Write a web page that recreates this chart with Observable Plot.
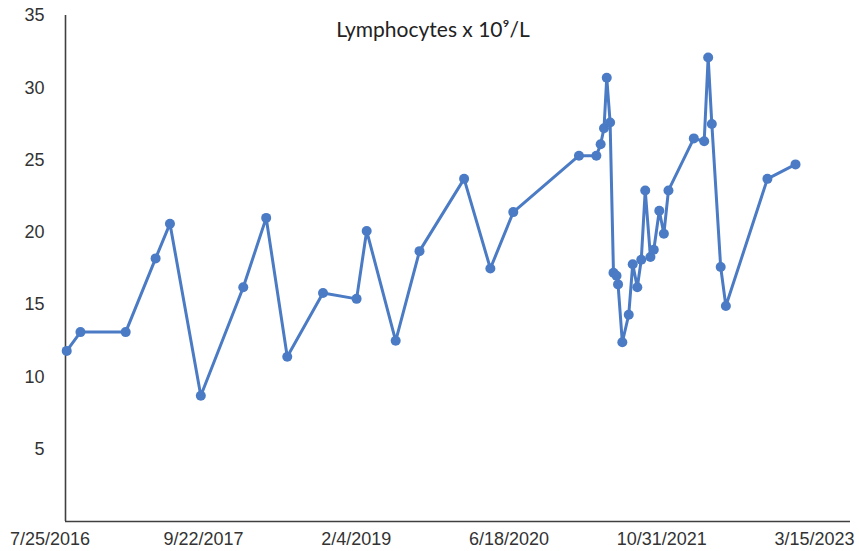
<!DOCTYPE html>
<html>
<head>
<meta charset="utf-8">
<script src="https://cdn.jsdelivr.net/npm/d3@7"></script>
<script src="https://cdn.jsdelivr.net/npm/@observablehq/plot@0.6"></script>
<style>
  html, body { margin: 0; padding: 0; background: #fff; }
  #chart { width: 859px; height: 551px; }
</style>
</head>
<body>
<div id="chart"></div>
<script>
const titleText = "Lymphocytes x 10\u2079/L";

const dates = [
  "2016-07-01", "2016-08-15", "2017-01-10", "2017-04-18", "2017-06-04",
  "2017-09-13", "2018-01-30", "2018-04-15", "2018-06-23", "2018-10-18",
  "2019-02-05", "2019-03-10", "2019-06-13", "2019-08-30", "2020-01-23",
  "2020-04-18", "2020-07-02", "2021-02-02", "2021-03-31", "2021-04-14",
  "2021-04-25", "2021-05-04", "2021-05-15", "2021-05-26", "2021-06-05",
  "2021-06-10", "2021-06-24", "2021-07-15", "2021-07-28", "2021-08-12",
  "2021-08-25", "2021-09-07", "2021-09-24", "2021-10-05", "2021-10-23",
  "2021-11-07", "2021-11-22", "2022-02-13", "2022-03-19", "2022-04-01",
  "2022-04-13", "2022-05-12", "2022-05-29", "2022-10-12", "2023-01-12"
];

const lymphocytes = [
  11.8, 13.1, 13.1, 18.2, 20.6,
  8.7, 16.2, 21.0, 11.4, 15.8,
  15.4, 20.1, 12.5, 18.7, 23.7,
  17.5, 21.4, 25.3, 25.3, 26.1,
  27.2, 30.7, 27.6, 17.2, 17.0,
  16.4, 12.4, 14.3, 17.8, 16.2,
  18.1, 22.9, 18.3, 18.8, 21.5,
  19.9, 22.9, 26.5, 26.3, 32.1,
  27.5, 17.6, 14.9, 23.7, 24.7
];

const xTickDates = ["2016-07-25", "2017-09-22", "2019-02-04", "2020-06-18", "2021-10-31", "2023-03-15"];
const yTicks = [5, 10, 15, 20, 25, 30, 35];
const xDomain = ["2016-06-27", "2023-07-11"];
const yDomain = [0, 35];

const data = dates.map((d, i) => ({date: new Date(d), value: lymphocytes[i]}));
const xTicks = xTickDates.map(d => new Date(d));
const fmt = d => `${d.getUTCMonth() + 1}/${d.getUTCDate()}/${d.getUTCFullYear()}`;
const x0 = new Date(xDomain[0]);

const blue = "#4A7BC4";
const axisOpts = {tickSize: 0, tickFormat: fmt, fontSize: 18, fill: "#333", label: null, tickPadding: 11};

const chart = Plot.plot({
  width: 859,
  height: 551,
  marginLeft: 65,
  marginRight: 9,
  marginTop: 15,
  marginBottom: 30,
  style: {fontFamily: "'Liberation Sans', Arial, sans-serif", background: "#fff", overflow: "visible"},
  x: {type: "utc", domain: xDomain.map(d => new Date(d))},
  y: {domain: yDomain},
  marks: [
    Plot.axisX([xTicks[0]], {...axisOpts, dx: -24}),
    Plot.axisX(xTicks.slice(1), axisOpts),
    Plot.axisY(yTicks, {tickSize: 0, tickPadding: 21, fontSize: 18, fill: "#333", label: null}),
    Plot.ruleY([0], {stroke: "#404040", strokeWidth: 1.6}),
    Plot.ruleX([x0], {y1: 0, y2: 35, stroke: "#404040", strokeWidth: 1.6}),
    Plot.line(data, {x: "date", y: "value", stroke: blue, strokeWidth: 3, strokeLinejoin: "round"}),
    Plot.dot(data, {x: "date", y: "value", r: 5, fill: blue, stroke: "none"}),
    Plot.text([titleText], {frameAnchor: "top", lineAnchor: "middle", dy: 15, dx: -25, fontSize: 21, fill: "#222", fontFamily: "Lato, 'Open Sans', sans-serif"})
  ]
});

document.getElementById("chart").appendChild(chart);
</script>
</body>
</html>
